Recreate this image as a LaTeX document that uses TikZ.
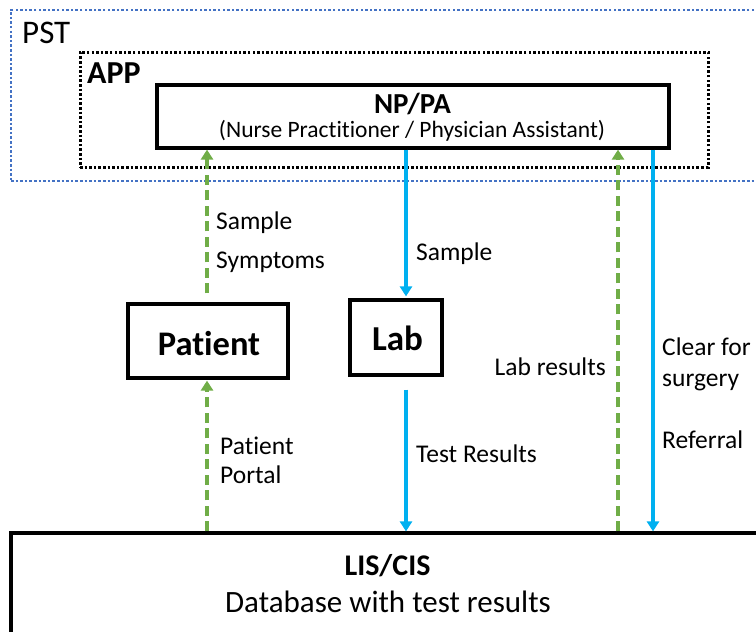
\documentclass[tikz,border=0pt]{standalone}
\usepackage{fontspec}
\setmainfont{Carlito}[Ligatures=NoCommon]
\usetikzlibrary{arrows.meta}
\definecolor{pstblue}{RGB}{68,114,196}
\definecolor{flowblue}{RGB}{0,176,240}
\definecolor{flowgreen}{RGB}{112,173,71}

\begin{document}
\begin{tikzpicture}[x=1pt,y=-1pt,
  box/.style={draw=black, line width=3.2pt, inner sep=0pt},
  pstframe/.style={draw=pstblue, line width=2.9pt, dash pattern=on 2.5pt off 2.1pt, inner sep=0pt},
  appframe/.style={draw=black, line width=3pt, dash pattern=on 2.5pt off 2.1pt, inner sep=0pt},
  bluearrow/.style={flowblue, line width=3.4pt, -{Triangle[length=10pt,width=12pt]}},
  greenarrow/.style={flowgreen, line width=3.6pt, dash pattern=on 10pt off 5.5pt, -{Triangle[length=10pt,width=12pt]}},
  lbl/.style={font=\fontsize{25.5}{30}\selectfont, inner sep=0pt},
  title/.style={inner sep=0pt, anchor=base},
]
\useasboundingbox (0,0) rectangle (756,632);
\clip (0,0) rectangle (756,632);

% containers
\node[pstframe, minimum width=769pt, minimum height=171pt] (pst) at (395.5,95.5) {};
\node[appframe, minimum width=628pt, minimum height=115pt] (app) at (394,109.5) {};
\node[inner sep=0pt, anchor=base west, font=\fontsize{33}{36}\selectfont] (psttext) at (22,43) {PST};
\node[inner sep=0pt, anchor=base west, font=\fontsize{32}{36}\selectfont\bfseries] (apptext) at (87,83) {APP};

% main boxes
\node[box, minimum width=512pt, minimum height=63pt] (np) at (413,116.5) {};
\node[title, font=\fontsize{29}{32}\selectfont\bfseries] (nptitle) at (412.5,113) {NP/PA};
\node[title, font=\fontsize{23.5}{26}\selectfont] (npsub) at (412,137) {(Nurse Practitioner / Physician Assistant)};

\node[box, minimum width=160pt, minimum height=74pt] (pat) at (208,341) {};
\node[title, font=\fontsize{34.5}{38}\selectfont\bfseries] (pattext) at (209,355) {Patient};

\node[box, minimum width=92pt, minimum height=75pt] (lab) at (396,337.5) {};
\node[title, font=\fontsize{35}{38}\selectfont\bfseries] (labtext) at (397.5,350) {Lab};

\node[box, minimum width=778pt, minimum height=134pt] (lis) at (400,600) {};
\node[title, font=\fontsize{30}{33}\selectfont\bfseries] (listitle) at (387.5,575) {LIS/CIS};
\node[title, font=\fontsize{31}{34}\selectfont] (lissub) at (388,612) {Database with test results};

% connector columns
\coordinate (gL) at (207,0);
\coordinate (bM) at (406,0);
\coordinate (gR) at (618,0);
\coordinate (bR) at (653,0);

% connectors
\draw[greenarrow] (pat.north -| gL) ++(0,-9) -- (np.south -| gL);
\draw[bluearrow, shorten >=2pt] (np.south -| bM) -- (lab.north -| bM);
\draw[greenarrow, shorten >=1pt] (lis.north -| gL) -- (pat.south -| gL);
\draw[bluearrow] (lab.south -| bM) ++(0,13) -- (lis.north -| bM);
\draw[greenarrow] (lis.north -| gR) -- (np.south -| gR);
\draw[bluearrow] (np.south -| bR) -- (lis.north -| bR);

% connector labels
\node[lbl, anchor=base west] (l1) at (216,229) {Sample};
\node[lbl, anchor=base west] (l2) at (216,268) {Symptoms};
\node[lbl, anchor=base west] (l3) at (416,260) {Sample};
\node[lbl, anchor=base west] (l4) at (220,454) {Patient};
\node[lbl, anchor=base west] (l5) at (220,483) {Portal};
\node[lbl, anchor=base west] (l6) at (416,462) {Test Results};
\node[lbl, anchor=base east] (l7) at (606,375) {Lab results};
\node[lbl, anchor=base west] (l8) at (662,355) {Clear for};
\node[lbl, anchor=base west] (l9) at (662,386) {surgery};
\node[lbl, anchor=base west] (l10) at (662,448) {Referral};
\end{tikzpicture}
\end{document}
